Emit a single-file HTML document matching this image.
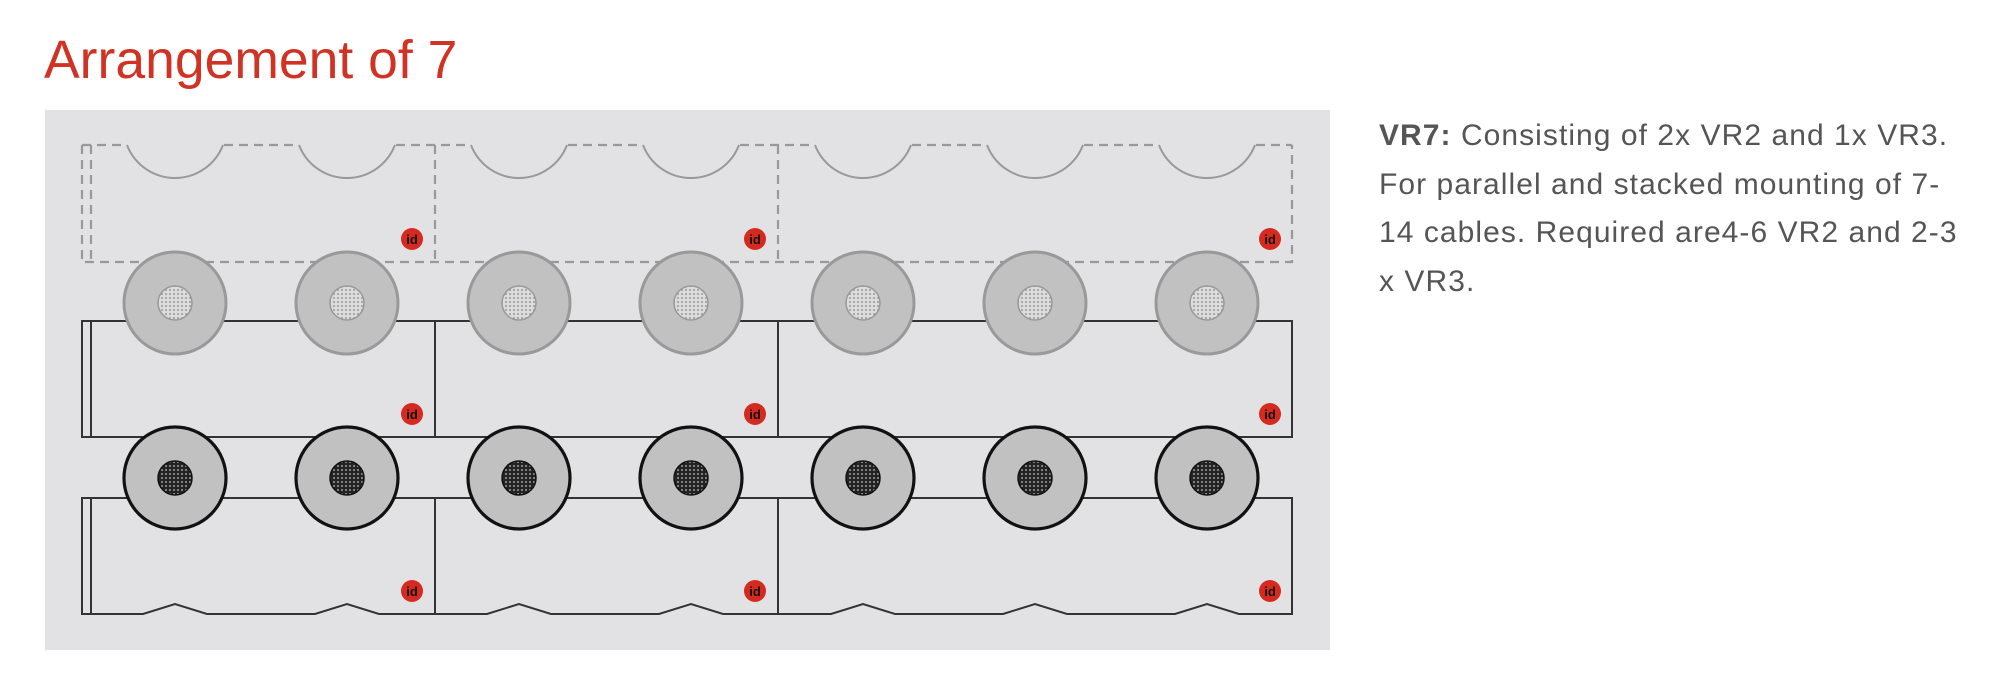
<!DOCTYPE html>
<html><head><meta charset="utf-8"><style>
html,body{margin:0;padding:0;background:#fff;width:2006px;height:688px;overflow:hidden}
.t{position:absolute;left:44px;top:30px;font:53.5px "Liberation Sans",sans-serif;color:#d03324}
.d{position:absolute;left:1379px;top:112px;font:30px/48.5px "Liberation Sans",sans-serif;color:#555;letter-spacing:1.05px;white-space:nowrap}
svg{position:absolute;left:0;top:0}
</style></head><body>
<svg width="2006" height="688" xmlns="http://www.w3.org/2000/svg">
<defs>
<pattern id="pl" width="4" height="4" patternUnits="userSpaceOnUse"><rect width="4" height="4" fill="#dcdcdc"/><circle cx="2" cy="2" r="1" fill="#999"/></pattern>
<pattern id="pd" width="4" height="4" patternUnits="userSpaceOnUse"><rect width="4" height="4" fill="#222"/><circle cx="2" cy="2" r="1.1" fill="#888"/></pattern>
</defs>
<rect x="45" y="110" width="1285" height="540" fill="#e2e2e4"/>
<g fill="none" stroke="#999" stroke-width="2.2" stroke-dasharray="9,6">
<path d="M82 145 V262 H1292 V145"/>
<path d="M91 145 V262"/>
<path d="M435 145 V262 M778 145 V262"/>
<path d="M82 145 H127 M224 145 H299 M396 145 H471 M568 145 H643 M740 145 H815 M912 145 H987 M1084 145 H1159 M1256 145 H1292"/>
</g>
<g fill="none" stroke="#999" stroke-width="2">
<path d="M127 145 A51.4 51.4 0 0 0 223 145 M299 145 A51.4 51.4 0 0 0 395 145 M471 145 A51.4 51.4 0 0 0 567 145 M643 145 A51.4 51.4 0 0 0 739 145 M815 145 A51.4 51.4 0 0 0 911 145 M987 145 A51.4 51.4 0 0 0 1083 145 M1159 145 A51.4 51.4 0 0 0 1255 145"/>
</g>
<g fill="none" stroke="#333" stroke-width="2">
<path d="M82 321 H1292 V437 H82 Z M91 321 V437 M435 321 V437 M778 321 V437"/>
<path d="M82 498 H1292 V614 H1239 L1207 604 L1175 614 H1067 L1035 604 L1003 614 H895 L863 604 L831 614 H723 L691 604 L659 614 H551 L519 604 L487 614 H379 L347 604 L315 614 H207 L175 604 L143 614 H82 Z M91 498 V614 M435 498 V614 M778 498 V614"/>
</g>
<g>
<g id="c1"><circle cx="175" cy="303" r="51" fill="#c1c1c2" stroke="#999" stroke-width="3"/><circle cx="175" cy="303" r="17" fill="url(#pl)" stroke="#999" stroke-width="1.5"/></g>
<use href="#c1" x="172"/><use href="#c1" x="344"/><use href="#c1" x="516"/><use href="#c1" x="688"/><use href="#c1" x="860"/><use href="#c1" x="1032"/>
<g id="c2"><circle cx="175" cy="478" r="51" fill="#c1c1c2" stroke="#111" stroke-width="3.2"/><circle cx="175" cy="478" r="17" fill="url(#pd)" stroke="#111" stroke-width="1.5"/></g>
<use href="#c2" x="172"/><use href="#c2" x="344"/><use href="#c2" x="516"/><use href="#c2" x="688"/><use href="#c2" x="860"/><use href="#c2" x="1032"/>
</g>
<g font-family="Liberation Sans,sans-serif" font-weight="bold" font-size="13" text-anchor="middle" fill="#111">
<g id="b"><circle cx="412" cy="239" r="11" fill="#d42a1f"/><text x="412" y="244">id</text></g>
<use href="#b" x="343"/><use href="#b" x="858"/>
<use href="#b" y="175"/><use href="#b" x="343" y="175"/><use href="#b" x="858" y="175"/>
<use href="#b" y="352"/><use href="#b" x="343" y="352"/><use href="#b" x="858" y="352"/>
</g>
</svg>
<div class="t">Arrangement of 7</div>
<div class="d"><b>VR7:</b> Consisting of 2x VR2 and 1x VR3.<br>For parallel and stacked mounting of 7-<br>14 cables. Required are4-6 VR2 and 2-3<br>x VR3.</div>
</body></html>
